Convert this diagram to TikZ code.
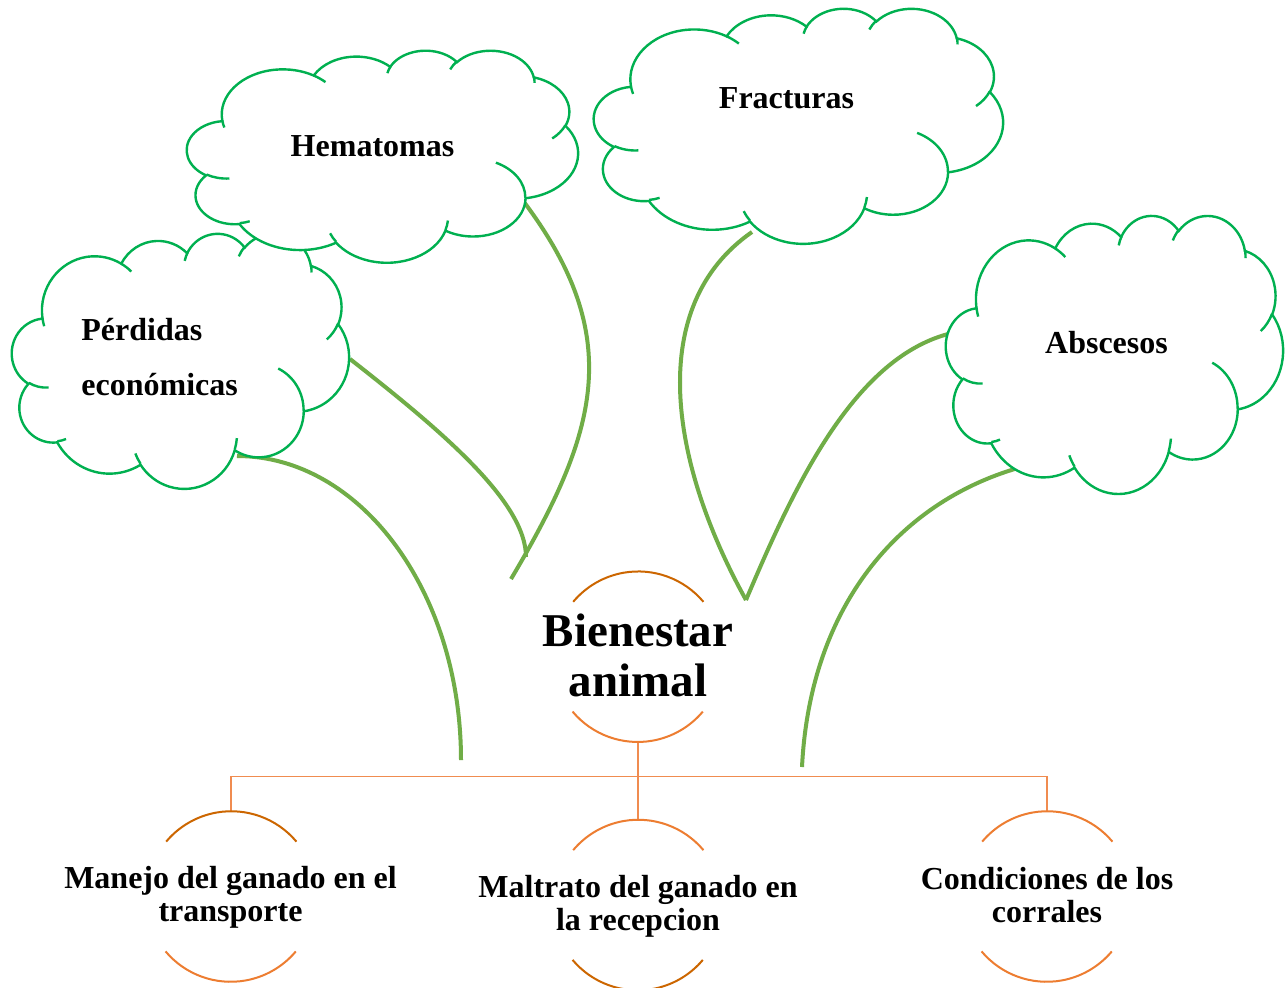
\documentclass[tikz,border=0pt]{standalone}
\usepackage{fontspec}
\setmainfont{Liberation Serif}
\definecolor{cloudgreen}{RGB}{0,176,80}
\definecolor{linkgreen}{RGB}{112,173,71}
\definecolor{orangeL}{RGB}{237,125,49}
\definecolor{orangeD}{RGB}{204,102,0}
\definecolor{orangeBus}{RGB}{240,140,80}

\newcommand\CLsetup[4]{%
  \pgfmathsetmacro\clX{#1*0.5}%
  \pgfmathsetmacro\clY{#2*0.5}%
  \pgfmathsetmacro\clW{#3*0.5}%
  \pgfmathsetmacro\clH{#4*0.5}%
}
\newcommand\CLpt[2]{\pgfpoint{\clX pt + #1/432*\clW pt}{-\clY pt - #2/432*\clH pt}}
\newcommand\CLmove[2]{\pgfpathmoveto{\CLpt{#1}{#2}}}
\newcommand\CLarc[4]{%
  \pgfmathsetmacro\clA{#3}%
  \pgfmathsetmacro\clB{#3+#4}%
  \pgfmathsetmacro\clTA{atan2(#1*sin(\clA),#2*cos(\clA))}%
  \pgfmathsetmacro\clTB{atan2(#1*sin(\clB),#2*cos(\clB))}%
  \pgfmathsetmacro\clD{mod(\clTB-\clTA+720,360)}%
  \pgfmathtruncatemacro\clNeg{(#4<0)}%
  \ifnum\clNeg=1 \pgfmathsetmacro\clD{\clD-360}\fi
  \pgfmathsetmacro\clS{-1*(\clTA)}%
  \pgfmathsetmacro\clE{-1*(\clTA+\clD)}%
  \pgfmathsetmacro\clRX{#1/432*\clW}%
  \pgfmathsetmacro\clRY{#2/432*\clH}%
  \pgfpatharc{\clS}{\clE}{\clRX pt and \clRY pt}%
}
\newcommand\DrawCloud[4]{%
 \begin{pgfscope}
  \CLsetup{#1}{#2}{#3}{#4}%
  \pgfsetlinewidth{1.2pt}%
  \pgfsetstrokecolor{cloudgreen}\pgfsetfillcolor{white}%
  \CLmove{39.00}{143.70}%
  \CLarc{67.53}{91.90}{-190.4875}{123.7805}%
  \CLarc{53.33}{72.67}{-144.1024}{89.9452}%
  \CLarc{43.65}{59.45}{-145.8079}{99.7230}%
  \CLarc{48.57}{65.95}{-130.9861}{117.2417}%
  \CLarc{53.33}{72.73}{-78.7089}{109.0269}%
  \CLarc{67.75}{92.20}{-46.2673}{130.2690}%
  \CLarc{57.85}{78.67}{0.6250}{114.0333}%
  \CLarc{67.52}{92.15}{22.4516}{115.1726}%
  \CLarc{77.20}{105.43}{66.2426}{75.7110}%
  \CLarc{43.60}{59.18}{-274.9421}{146.7356}%
  \CLarc{43.45}{59.45}{-246.8285}{152.5189}%
  \pgfpathclose
  \pgfusepath{fill,stroke}%
  \CLmove{46.93}{261.77}\CLarc{43.45}{59.45}{86.7420}{26.4295}%
  \CLmove{69.28}{348.99}\CLarc{43.60}{59.18}{73.6105}{11.4475}%
  \CLmove{164.78}{390.90}\CLarc{67.52}{92.15}{137.6242}{14.0811}%
  \CLmove{288.27}{347.51}\CLarc{67.52}{92.15}{6.4533}{15.9984}%
  \CLmove{341.29}{229.54}\CLarc{57.85}{78.67}{-70.2924}{70.9174}%
  \CLmove{417.98}{153.54}\CLarc{53.33}{72.73}{30.3180}{27.7515}%
  \CLmove{383.24}{54.26}\CLarc{48.57}{65.95}{-13.7443}{14.8589}%
  \CLmove{290.78}{39.52}\CLarc{48.57}{65.95}{-149.1815}{18.1954}%
  \CLmove{221.41}{47.20}\CLarc{43.65}{59.45}{-163.4943}{17.6864}%
  \CLmove{140.00}{51.92}\CLarc{67.53}{91.90}{-66.7070}{12.3194}%
  \CLmove{41.27}{157.89}\CLarc{67.53}{91.90}{157.6544}{11.8582}%
  \pgfusepath{stroke}%
 \end{pgfscope}}

\begin{document}
\begin{tikzpicture}[x=0.5pt,y=0.5pt,
  link/.style={draw=linkgreen,line width=2pt},
  ring/.style={circle,minimum size=85pt,inner sep=0pt,draw=none},
  arcdark/.style={draw=orangeD,line width=1pt},
  arclight/.style={draw=orangeL,line width=1pt},
  bus/.style={draw=orangeBus,line width=0.7pt},
  lbl/.style={inner sep=0pt,font=\bfseries\fontsize{16}{16.5}\selectfont,align=center},
  cloudlbl/.style={inner sep=0pt,font=\bfseries\fontsize{16}{27.5}\selectfont}]
\useasboundingbox[fill=white] (0,0) rectangle (1286,-987);

% green connectors (endpoints)
\coordinate (g1s) at (237,-456);  \coordinate (g1e) at (461,-760);
\coordinate (g2s) at (350,-359);  \coordinate (g2e) at (526,-557);
\coordinate (g3s) at (524,-202);  \coordinate (g3e) at (511,-579);
\coordinate (g4s) at (752,-232);  \coordinate (g4e) at (746,-600);
\coordinate (g5s) at (746,-600);  \coordinate (g5e) at (948,-334);
\coordinate (g6s) at (1018,-468); \coordinate (g6e) at (802,-767);
\draw[link] (g1s) .. controls +(123.7,0) and +(0,167.9) .. (g1e);
\draw[link] (g2s) .. controls +(92,-72) and +(0,55) .. (g2e);
\draw[link] (g3s) .. controls +(102,-136) and +(86.7,146.2) .. (g3e);
\draw[link] (g4s) .. controls +(-106.6,-74) and +(-77,139) .. (g4e);
\draw[link] (g5s) .. controls +(46.8,110.4) and +(-96,-26) .. (g5e);
\draw[link] (g6s) .. controls +(-120,-35) and +(8,160) .. (g6e);

% clouds
\DrawCloud{12}{233}{337}{255}
\DrawCloud{187}{50}{391}{212}
\DrawCloud{594}{8}{409}{235}
\DrawCloud{946}{215}{337}{278}

\node[cloudlbl,anchor=base west,align=left] (perdidas) at (81,-395.7) {Pérdidas\\económicas};
\node[cloudlbl,anchor=base] (hematomas) at (372.5,-156.7) {Hematomas};
\node[cloudlbl,anchor=base] (fracturas) at (786.5,-108) {Fracturas};
\node[cloudlbl,anchor=base] (abscesos) at (1106.5,-353) {Abscesos};

% orange tree
\node[ring] (ba) at (638,-656.7) {};
\node[ring] (mj) at (231,-896.5) {};
\node[ring] (mt) at (638,-905) {};
\node[ring] (cc) at (1047,-896.5) {};

\draw[bus] (ba.south) -- (mt.north);
\draw[bus] (mj.north) |- (638,-776.7) -| (cc.north);

\draw[arcdark]  (ba.40) arc[start angle=40,end angle=140,radius=42.5pt];
\draw[arclight] (ba.220) arc[start angle=220,end angle=320,radius=42.5pt];
\draw[arcdark]  (mj.40) arc[start angle=40,end angle=140,radius=42.5pt];
\draw[arclight] (mj.220) arc[start angle=220,end angle=320,radius=42.5pt];
\draw[arclight] (mt.40) arc[start angle=40,end angle=140,radius=42.5pt];
\draw[arcdark]  (mt.220) arc[start angle=220,end angle=320,radius=42.5pt];
\draw[arclight] (cc.40) arc[start angle=40,end angle=140,radius=42.5pt];
\draw[arclight] (cc.220) arc[start angle=220,end angle=320,radius=42.5pt];

\node[lbl,anchor=base,font=\bfseries\fontsize{23.5}{25}\selectfont] (bat) at (638,-696) {Bienestar\\animal};
\node[lbl,anchor=base] (mjt) at (230.5,-921) {Manejo del ganado en el\\transporte};
\node[lbl,anchor=base] (mtt) at (638,-930) {Maltrato del ganado en\\la recepcion};
\node[lbl,anchor=base] (cct) at (1047,-922) {Condiciones de los\\corrales};
\end{tikzpicture}
\end{document}
